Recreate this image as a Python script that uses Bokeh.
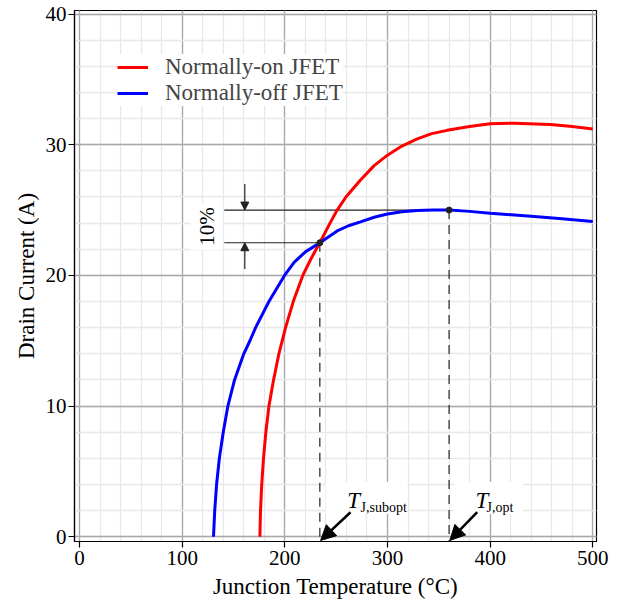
import math
from bokeh.plotting import figure
from bokeh.models import (Range1d, SingleIntervalTicker, Legend, LegendItem, Label,
                          Arrow, NormalHead, BoxAnnotation)
from bokeh.embed import file_html
from bokeh.resources import INLINE

# ---- data ----
on_T = [175.7, 176.3, 177.5, 179.2, 181.5, 184.5, 189.0, 194.2, 200.7, 208.2, 217.5,
        225.0, 230.5, 234.1, 244.0, 251.0, 259.5, 273.7, 287.0, 300.0, 314.0, 329.0, 343.0,
        358.0, 380.0, 400.0, 423.0, 459.0, 480.0, 500.0]
on_I = [0.0, 2.0, 4.0, 6.0, 8.0, 10.0, 12.0, 14.0, 16.0, 18.0, 20.0,
        21.2, 22.0, 22.5, 24.0, 25.0, 26.0, 27.3, 28.4, 29.2, 29.9, 30.45, 30.85,
        31.1, 31.4, 31.6, 31.65, 31.55, 31.4, 31.2]

off_T = [130.5, 131.7, 133.5, 136.2, 140.0, 144.5, 151.0, 160.0, 166.0, 171.5, 184.5, 199.7,
         209.0, 220.0, 234.1, 251.0, 262.0, 273.7, 287.0, 300.0, 314.0, 329.0, 345.0, 360.0,
         380.0, 400.0, 443.0, 470.0, 500.0]
off_I = [0.0, 2.0, 4.0, 6.0, 8.0, 10.0, 12.0, 14.0, 15.0, 16.0, 18.0, 20.0,
         21.0, 21.8, 22.5, 23.4, 23.8, 24.1, 24.45, 24.7, 24.87, 24.97, 25.0, 25.0,
         24.9, 24.76, 24.5, 24.33, 24.12]

opt_T, opt_I = 360.0, 25.0
sub_T, sub_I = 234.1, 22.5
label_names = ["Normally-on JFET", "Normally-off JFET"]
x_ticks_step, y_ticks_step = 100, 10

FONT = "Liberation Serif"

p = figure(width=612, height=608, output_backend="svg", toolbar_location=None,
           x_range=Range1d(-4.9, 503.6), y_range=Range1d(-0.36, 40.27),
           min_border_left=74, min_border_top=10, min_border_right=16, min_border_bottom=67)

p.background_fill_color = "white"
p.border_fill_color = "white"
p.outline_line_color = "black"
p.outline_line_width = 1.2

p.xaxis.ticker = SingleIntervalTicker(interval=x_ticks_step, num_minor_ticks=5)
p.yaxis.ticker = SingleIntervalTicker(interval=y_ticks_step, num_minor_ticks=5)
p.xgrid.ticker = p.xaxis.ticker
p.ygrid.ticker = p.yaxis.ticker

for g in (p.xgrid, p.ygrid):
    g.grid_line_color = "#a8a8a8"
    g.grid_line_width = 1.3
    g.minor_grid_line_color = "#e8e8e8"
    g.minor_grid_line_width = 1.3

for ax in (p.xaxis, p.yaxis):
    ax.axis_line_color = "black"
    ax.axis_line_width = 1.2
    ax.major_tick_line_color = "black"
    ax.major_tick_line_width = 1.2
    ax.major_tick_out = 6
    ax.major_tick_in = 0
    ax.minor_tick_line_color = None
    ax.major_label_text_font = FONT
    ax.major_label_text_font_size = "21px"
    ax.major_label_text_color = "black"
    ax.axis_label_text_font = FONT
    ax.axis_label_text_font_size = "23px"
    ax.axis_label_text_font_style = "normal"
    ax.axis_label_text_color = "black"

p.xaxis.major_label_standoff = 3
p.xaxis.axis_label_standoff = 6
p.yaxis.major_label_standoff = 2
p.yaxis.axis_label_standoff = 4

p.xaxis.axis_label = "Junction Temperature (°C)"
p.yaxis.axis_label = "Drain Current (A)"

# ---- annotation lines ----
left_x = 141.0
p.segment(x0=[left_x, left_x], y0=[opt_I, sub_I], x1=[opt_T, sub_T], y1=[opt_I, sub_I],
          line_color="#222222", line_width=1.2)
p.segment(x0=[sub_T, opt_T], y0=[sub_I, opt_I], x1=[sub_T, opt_T], y1=[-0.36, -0.36],
          line_color="#222222", line_width=1.2, line_dash="9 6")

# ---- curves ----
r_on = p.line(on_T, on_I, line_color="#ff0000", line_width=3)
r_off = p.line(off_T, off_I, line_color="#0000ff", line_width=3)

p.scatter([sub_T, opt_T], [sub_I, opt_I], size=6, color="#222222")

# ---- 10% arrows ----
arrow_x = 161.0
p.add_layout(Arrow(end=NormalHead(size=8, fill_color="#222222", line_color="#222222"),
                   x_start=arrow_x, y_start=27.0, x_end=arrow_x, y_end=opt_I,
                   line_color="#222222", line_width=1.2))
p.add_layout(Arrow(end=NormalHead(size=8, fill_color="#222222", line_color="#222222"),
                   x_start=arrow_x, y_start=20.5, x_end=arrow_x, y_end=sub_I,
                   line_color="#222222", line_width=1.2))
p.add_layout(Label(x=123.7, y=23.75, text="10%", angle=math.pi / 2,
                   text_align="center", text_baseline="middle",
                   text_font=FONT, text_font_size="21px", text_color="black",
                   background_fill_color="white", padding=4))

# ---- T labels with arrows ----
for (bx0, bx1, xt, xs, sub_text, tip_x, tail_x) in [
        (239.6, 319.5, 260.8, 273.7, "J,subopt", sub_T, 264.0),
        (365.0, 432.0, 385.8, 396.5, "J,opt", opt_T, 387.4)]:
    p.add_layout(BoxAnnotation(left=bx0, right=bx1, bottom=1.75, top=4.2,
                               fill_color="white", fill_alpha=1.0, line_color=None))
    p.add_layout(Label(x=xt, y=2.78, text="T", text_font=FONT, text_font_size="23px",
                       text_font_style="italic", text_color="black",
                       text_baseline="alphabetic"))
    p.add_layout(Label(x=xs, y=2.22, text=sub_text, text_font=FONT, text_font_size="14px",
                       text_color="black", text_baseline="alphabetic"))
    p.add_layout(Arrow(end=NormalHead(size=15, fill_color="black", line_color="black"),
                       x_start=tail_x, y_start=1.88, x_end=tip_x + 0.7, y_end=-0.28,
                       line_color="black", line_width=2.5))

# ---- legend ----
legend = Legend(items=[LegendItem(label=label_names[0], renderers=[r_on]),
                       LegendItem(label=label_names[1], renderers=[r_off])],
                location=(43, 435), border_line_color=None,
                background_fill_color="white", background_fill_alpha=1.0,
                label_text_font=FONT, label_text_font_size="23px",
                glyph_width=31, glyph_height=26, label_height=26, spacing=0,
                label_standoff=17, padding=9, margin=0)
p.add_layout(legend)

open("out.html", "w").write(file_html(p, INLINE))
